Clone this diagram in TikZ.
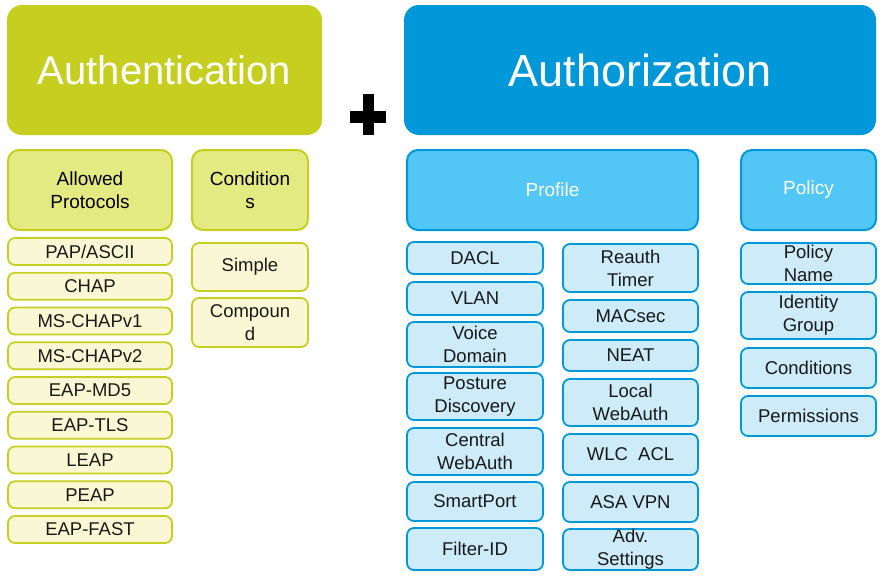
\documentclass[tikz,border=0pt]{standalone}
\usepackage{fontspec}
\setmainfont{Liberation Sans}
\usepackage{tikz}
\definecolor{limedark}{HTML}{C6CE1F}
\definecolor{limemid}{HTML}{E4EA82}
\definecolor{limelight}{HTML}{FAF8D4}
\definecolor{bluedark}{HTML}{0098D8}
\definecolor{bluemid}{HTML}{52C7F5}
\definecolor{bluelight}{HTML}{CDEBF9}

\begin{document}
\begin{tikzpicture}[x=1pt, y=-1pt,
		head/.style={rectangle, rounded corners=15pt, inner sep=0pt, text=white},
		group/.style={rectangle, rounded corners=11pt, inner sep=0pt, line width=2pt, align=center, font=\fontsize{19}{23}\selectfont},
		item/.style={rectangle, rounded corners=7pt, inner sep=0pt, line width=1.8pt, align=center, font=\fontsize{18.5}{23}\selectfont, text=black!90},
		authn/.style={fill=limelight, draw=limedark},
		authz/.style={fill=bluelight, draw=bluedark}]
								\useasboundingbox (0,0) rectangle (884,581);
								\node[head, fill=limedark, minimum width=315pt, minimum height=130pt, font=\fontsize{40}{48}\selectfont] (authn) at (164.5,70) {Authentication};
								\node[head, fill=bluedark, minimum width=472pt, minimum height=130pt, font=\fontsize{45}{54}\selectfont] (authz) at (640,70) {Authorization};
								\draw[line width=11.5pt] (350,117) -- (386,117);
								\draw[line width=11.5pt] (368.5,94) -- (368.5,135);
								\node[group, fill=limemid, draw=limedark, minimum width=164pt, minimum height=80pt] (prot) at (90,190) {Allowed\\Protocols};
								\node[group, fill=limemid, draw=limedark, minimum width=116pt, minimum height=80pt] (cond) at (250,190) {Condition\\s};
								\node[group, fill=bluemid, draw=bluedark, minimum width=291pt, minimum height=80pt, text=white] (prof) at (552.5,190) {Profile};
								\node[group, fill=bluemid, draw=bluedark, minimum width=135pt, minimum height=80pt, text=white] (pol) at (808.5,190) {Policy};
								\foreach \t [count=\i] in {PAP/ASCII,CHAP,MS-CHAPv1,MS-CHAPv2,EAP-MD5,EAP-TLS,LEAP,PEAP,EAP-FAST}
									\node[item, authn, minimum width=164pt, minimum height=27pt] (prot\i) at (90,{251.5+34.75*(\i-1)}) {\t};
								\node[item, authn, minimum width=116pt, minimum height=48pt] (cond1) at (250,267) {Simple};
								\node[item, authn, minimum width=116pt, minimum height=49pt] (cond2) at (250,322.5) {Compoun\\d};
								\foreach \y/\h/\t [count=\i] in {258/32/DACL, 298.5/33/VLAN, 344.5/45/{Voice\\Domain}, 396.5/47/{Posture\\Discovery}, 451.5/47/{Central\\WebAuth}, 501.5/39/SmartPort, 549/42/Filter-ID}
									\node[item, authz, minimum width=136pt, minimum height=\h pt] (profa\i) at (475,\y) {\t};
								\foreach \y/\h/\t [count=\i] in {268/48/{Reauth\\Timer}, 316/32/MACsec, 355.5/31/NEAT, 402.5/47/{Local\\WebAuth}, 454.5/41/{WLC\ \ ACL}, 502/40/ASA VPN, 549.5/41/{Adv.\\Settings}}
									\node[item, authz, minimum width=135pt, minimum height=\h pt] (profb\i) at (630.5,\y) {\t};
								\foreach \y/\h/\t [count=\i] in {263.5/41/{Policy\\Name}, 315.5/47/{Identity\\Group}, 368/40/Conditions, 416/40/Permissions}
									\node[item, authz, minimum width=135pt, minimum height=\h pt] (pol\i) at (808.5,\y) {\t};
							\end{tikzpicture}
\end{document}
